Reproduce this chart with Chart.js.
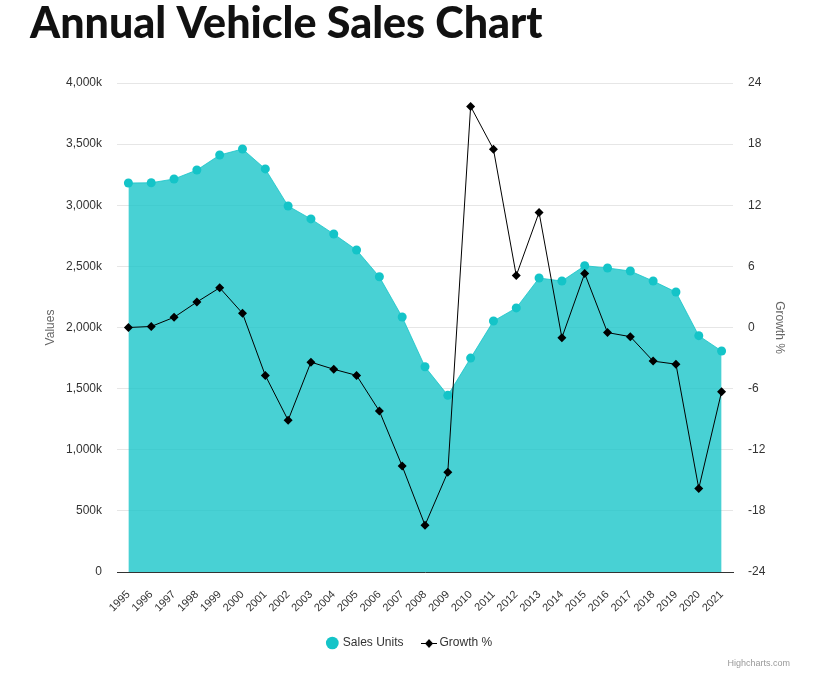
<!DOCTYPE html>
<html>
<head>
<meta charset="utf-8">
<script src="https://cdn.jsdelivr.net/npm/chart.js@4"></script>
<style>
  html, body { margin: 0; padding: 0; background: #fff; }
  #wrap { width: 830px; height: 679px; position: relative; }
</style>
</head>
<body>
<div id="wrap"><canvas id="salesChart" width="830" height="679"></canvas></div>
<script>
const years = ["1995", "1996", "1997", "1998", "1999", "2000", "2001", "2002", "2003",
    "2004", "2005", "2006", "2007", "2008", "2009", "2010", "2011", "2012", "2013",
    "2014", "2015", "2016", "2017", "2018", "2019", "2020", "2021"];

const salesUnits = [3182000, 3184000, 3215000, 3288000, 3411000, 3460000, 3297000,
    2994000, 2888000, 2765000, 2634000, 2415000, 2086000, 1679000, 1445000, 1750000,
    2053000, 2160000, 2405000, 2380000, 2505000, 2487000, 2462000, 2380000, 2290000,
    1933000, 1808000];

const growthPct = [0.0, 0.1, 1.0, 2.5, 3.9, 1.4, -4.7, -9.1, -3.4, -4.1, -4.7, -8.2,
    -13.6, -19.4, -14.2, 21.7, 17.5, 5.1, 11.3, -1.0, 5.3, -0.5, -0.9, -3.3, -3.6,
    -15.8, -6.3];

const salesColor = "rgb(20,196,200)";
const salesFill = "rgba(20,196,200,0.78)";
const textFont = "'Liberation Sans', Arial, sans-serif";

// small line + diamond icon for the growth legend entry
function growthIcon() {
    const c = document.createElement("canvas");
    c.width = 16;
    c.height = 10;
    const g = c.getContext("2d");
    g.strokeStyle = "#000";
    g.lineWidth = 1;
    g.beginPath();
    g.moveTo(0, 5.5);
    g.lineTo(16, 5.5);
    g.stroke();
    g.fillStyle = "#000";
    g.beginPath();
    g.moveTo(8, 1);
    g.lineTo(12, 5.5);
    g.lineTo(8, 10);
    g.lineTo(4, 5.5);
    g.closePath();
    g.fill();
    return c;
}

const credits = {
    id: "credits",
    afterDraw(chart) {
        const ctx = chart.ctx;
        ctx.save();
        ctx.font = "9px " + textFont;
        ctx.fillStyle = "#999";
        ctx.textAlign = "right";
        ctx.textBaseline = "middle";
        ctx.fillText("Highcharts.com", 790, 664);
        ctx.restore();
    },
};

const ctx = document.getElementById("salesChart").getContext("2d");
const legendIcon = growthIcon();

new Chart(ctx, {
    type: "line",
    data: {
        labels: years,
        datasets: [
            {
                label: "Sales Units",
                data: salesUnits,
                yAxisID: "y",
                order: 2,
                fill: "origin",
                backgroundColor: salesFill,
                borderColor: salesFill,
                borderWidth: 1,
                tension: 0,
                pointStyle: "circle",
                pointRadius: 4.5,
                pointBorderWidth: 0,
                pointBackgroundColor: salesColor,
            },
            {
                label: "Growth %",
                data: growthPct,
                yAxisID: "y1",
                order: 1,
                fill: false,
                borderColor: "#000",
                borderWidth: 1,
                tension: 0,
                pointStyle: "rectRot",
                pointRadius: 4.5,
                pointBorderWidth: 0,
                pointBackgroundColor: "#000",
            },
        ],
    },
    options: {
        responsive: false,
        animation: false,
        layout: {
            padding: { left: 30, right: 40, top: 3, bottom: 20 },
        },
        plugins: {
            title: {
                display: true,
                text: "Annual Vehicle Sales Chart",
                align: "start",
                color: "#111",
                font: { family: "Lato, sans-serif", size: 43, weight: "900", lineHeight: 1.0 },
                padding: { top: 0, bottom: 37 },
            },
            legend: {
                position: "bottom",
                labels: {
                    usePointStyle: true,
                    boxWidth: 9,
                    boxHeight: 9,
                    padding: 21,
                    color: "#333",
                    font: { family: textFont, size: 12 },
                    sort: (a, b) => a.datasetIndex - b.datasetIndex,
                    generateLabels(chart) {
                        const items = Chart.defaults.plugins.legend.labels.generateLabels(chart);
                        items.forEach((it) => {
                            if (it.datasetIndex === 0) {
                                it.fillStyle = salesColor;
                                it.strokeStyle = salesColor;
                                it.pointStyle = "circle";
                            } else {
                                it.pointStyle = legendIcon;
                            }
                        });
                        return items;
                    },
                },
            },
            tooltip: { enabled: false },
        },
        scales: {
            x: {
                offset: true,
                grid: { display: false },
                border: { display: true, color: "#333", width: 1 },
                ticks: {
                    color: "#333",
                    font: { family: textFont, size: 11 },
                    maxRotation: 45,
                    minRotation: 45,
                    autoSkip: false,
                    padding: 8,
                },
                afterFit(scale) {
                    scale.height = 44;
                },
            },
            y: {
                position: "left",
                min: 0,
                max: 4000000,
                grid: { color: "#e6e6e6", drawTicks: false },
                border: { display: false },
                ticks: {
                    stepSize: 500000,
                    padding: 15,
                    color: "#333",
                    font: { family: textFont, size: 12 },
                    callback: (v) => (v === 0 ? "0" : (v / 1000).toLocaleString("en-US") + "k"),
                },
                title: {
                    display: true,
                    text: "Values",
                    color: "#666",
                    font: { family: textFont, size: 12 },
                    padding: { top: 13, bottom: 0 },
                },
                afterFit(scale) {
                    scale.width = 87;
                },
            },
            y1: {
                position: "right",
                min: -24,
                max: 24,
                grid: { display: false, drawTicks: false },
                border: { display: false },
                ticks: {
                    stepSize: 6,
                    padding: 15,
                    color: "#333",
                    font: { family: textFont, size: 12 },
                },
                title: {
                    display: true,
                    text: "Growth %",
                    color: "#666",
                    font: { family: textFont, size: 12 },
                    padding: { top: 3, bottom: 0 },
                },
                afterFit(scale) {
                    scale.width = 57;
                },
            },
        },
    },
    plugins: [credits],
});
</script>
</body>
</html>
